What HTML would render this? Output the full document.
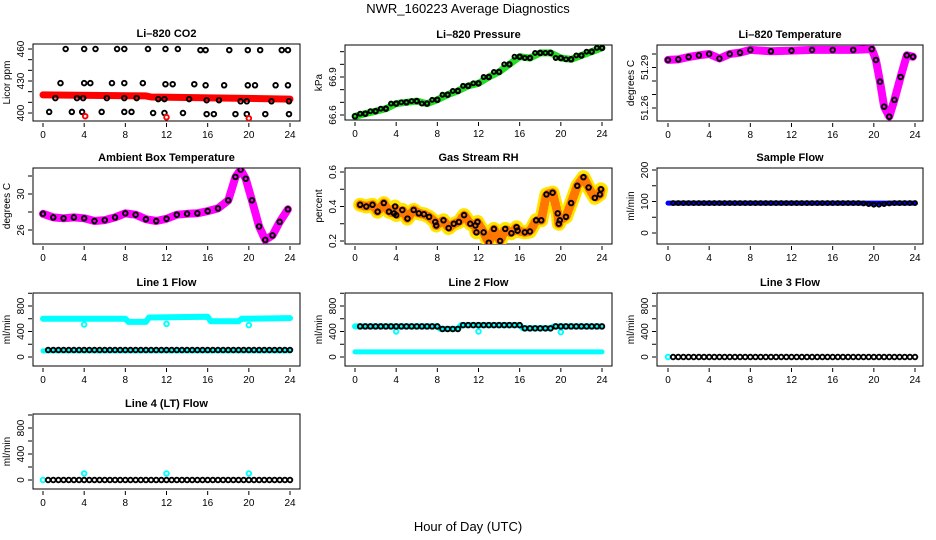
<!DOCTYPE html>
<html><head><meta charset="utf-8"><style>
html,body{margin:0;padding:0;background:#fff}
svg{display:block;font-family:"Liberation Sans",Arial,sans-serif}
</style></head><body>
<svg id="chart" width="936" height="540" viewBox="0 0 936 540">
<text x="468" y="13" text-anchor="middle" font-size="13">NWR_160223  Average Diagnostics</text>
<text x="468" y="531" text-anchor="middle" font-size="13">Hour of Day (UTC)</text>
</svg>
<script>
// ---- data ----
const xTicks = [0,4,8,12,16,20,24];
const halfHours = [0.5,1,1.5,2,2.5,3,3.5,4,4.5,5,5.5,6,6.5,7,7.5,8,8.5,9,9.5,10,10.5,11,11.5,12,12.5,13,13.5,14,14.5,15,15.5,16,16.5,17,17.5,18,18.5,19,19.5,20,20.5,21,21.5,22,22.5,23,23.5,24];

// CO2
const co2LineX = [0,10,10.5,18,24];
const co2LineY = [417,416,415,414,413];
const co2PtsX = [2.2,4.0,5.1,7.2,7.9,10.2,11.9,13.1,15.3,15.8,18.1,19.9,21.1,23.2,23.8,
 1.7,4.0,4.6,6.7,7.9,9.7,11.9,12.6,14.7,15.8,17.6,19.9,20.6,22.6,23.8,
 1.2,3.3,3.9,6.2,7.9,9.1,11.2,11.8,14.2,15.9,17.1,19.2,19.8,22.2,23.9,
 0.6,2.8,3.8,5.7,7.9,8.6,10.7,11.8,13.6,15.9,16.6,18.7,19.8,21.6,23.9];
const co2PtsY = [460,460,460,460,460,460,460,460,459,459,459,459,459,459,459,
 428,428,428,428,428,428,427,427,427,426,426,426,426,426,426,
 414,414,414,414,414,414,413,413,413,412,412,411,411,411,411,
 401,401,401,401,401,401,400,400,400,399,399,399,399,399,399];
const co2OutX = [4.1,12,20];
const co2OutY = [397,396,395];

// Pressure
const presX = [0,1,2,3,4,5,6,7,8,9,10,11,12,13,14,15,16,17,18,19,20,21,22,23,24];
const presY = [66.59,66.61,66.63,66.65,66.69,66.70,66.71,66.69,66.72,66.76,66.79,66.83,66.85,66.90,66.94,67.00,67.06,67.05,67.09,67.09,67.05,67.04,67.07,67.10,67.13];

// Li-820 temperature
const tempX = [0,1,2,3,4,5,6,7,8,10,12,14,16,18,19.8,20.2,20.6,21,21.5,22,22.6,23.2,23.8];
const tempY = [51.2956,51.296,51.2978,51.299,51.300,51.2967,51.300,51.301,51.303,51.302,51.3025,51.303,51.303,51.303,51.3036,51.2956,51.2795,51.261,51.2536,51.266,51.283,51.299,51.298];

// Ambient box temperature
const ambX = [0,1,2,3,4,5,6,7,8,9,10,11,12,13,14,15,16,17,18,18.7,19.2,19.7,20.3,21,21.6,22.3,23,23.8];
const ambY = [27.8,27.4,27.3,27.4,27.3,27.0,27.1,27.4,27.85,27.7,27.2,27.0,27.25,27.7,27.8,27.85,28.1,28.4,29.3,31.9,32.7,31.7,29.3,26.4,24.9,25.4,26.9,28.3];

// Gas stream RH
const rhX = [0.5,1.1,1.7,2.2,2.8,3.3,3.8,3.9,4.0,4.6,5.1,5.7,6.2,6.7,7.2,7.8,7.9,8.6,9.1,9.6,10.1,10.6,11.2,11.7,11.8,11.9,12.5,13.0,13.5,14.1,14.6,15.2,15.7,15.8,16.5,17.0,17.6,18.1,18.6,19.2,19.7,19.8,19.9,20.5,21.0,21.6,22.2,22.7,23.3,23.8,23.9];
const rhY = [0.41,0.40,0.41,0.37,0.42,0.37,0.36,0.40,0.35,0.38,0.33,0.38,0.36,0.355,0.34,0.31,0.29,0.32,0.275,0.30,0.31,0.35,0.30,0.29,0.25,0.31,0.25,0.19,0.27,0.20,0.27,0.245,0.28,0.26,0.25,0.255,0.32,0.32,0.47,0.48,0.36,0.30,0.32,0.34,0.42,0.52,0.57,0.51,0.45,0.47,0.50];

// Sample flow
const sampleY = [95,95,95,95,95,95,95,95,95,95,95,95,95,95,95,95,95,95,95,95,95,95,95,95,95,95,95,95,95,95,95,95,95,95,95,95,95,94,92,90,90,92,94,95,95,95,95,95];

// Line flows
const l1CyanX = [0,8,8.3,10,10.3,16,16.3,19,19.3,24];
const l1CyanY = [600,600,550,550,620,630,560,560,600,610];
const l1LowX = [0,24];
const l1LowY = [95,95];
const l1OutX = [4,12,20];
const l1OutY = [510,520,500];
const l1Black = [110,110,110,110,110,110,110,110,110,110,110,110,110,110,110,110,110,110,110,110,110,110,110,110,110,110,110,110,110,110,110,110,110,110,110,110,110,110,110,110,110,110,110,110,110,110,110,110];

const l2CyanX = [0,8,8.3,10,10.3,16,16.3,19,19.3,24];
const l2CyanY = [480,480,440,440,500,500,450,450,480,480];
const l2LowX = [0,24];
const l2LowY = [80,80];
const l2OutX = [4,12,20];
const l2OutY = [400,400,390];
const l2Black = [480,480,480,480,480,480,480,480,480,480,480,480,480,480,480,480,440,440,440,440,500,500,500,500,500,500,500,500,500,500,500,500,450,450,450,450,450,450,480,480,480,480,480,480,480,480,480,480];

const l3Black = [0,0,0,0,0,0,0,0,0,0,0,0,0,0,0,0,0,0,0,0,0,0,0,0,0,0,0,0,0,0,0,0,0,0,0,0,0,0,0,0,0,0,0,0,0,0,0,0];
const l3CyanX = [0];
const l3CyanY = [0];

const l4Black = [0,0,0,0,0,0,0,0,0,0,0,0,0,0,0,0,0,0,0,0,0,0,0,0,0,0,0,0,0,0,0,0,0,0,0,0,0,0,0,0,0,0,0,0,0,0,0,0];
const l4OutX = [0,4,12,20];
const l4OutY = [0,100,100,100];

// ---- drawing ----
const NS = "http://www.w3.org/2000/svg";
const svg = document.getElementById('chart');
function mk(tag, attrs, parent){
  const e = document.createElementNS(NS, tag);
  for (const k in attrs) e.setAttribute(k, attrs[k]);
  (parent||svg).appendChild(e);
  return e;
}
function makePanel(p){
  const g = mk('g', {});
  
  
  const x = v => p.x0 + (v/24)*(p.x24 - p.x0);
  const y = v => p.ya + (v - p.va)/(p.vb - p.va)*(p.yb - p.ya);
  const box = mk('rect', {x:p.L, y:p.T, width:p.R-p.L, height:p.B-p.T, fill:'none', stroke:'#000', 'stroke-width':1}, g);
  
  
  const t = mk('text', {x:(p.L+p.R)/2, y:p.T-7, 'text-anchor':'middle', 'font-size':11, 'font-weight':'bold'}, g);
  t.textContent = p.title;
  
  
  xTicks.forEach(v => {
    mk('line', {x1:x(v), x2:x(v), y1:p.B+2, y2:p.B+6, stroke:'#000'}, g);
    const tl = mk('text', {x:x(v), y:p.B+17, 'text-anchor':'middle', 'font-size':10}, g);
    tl.textContent = v;
    
    
  });
  p.yticks.forEach(v => {
    mk('line', {x1:p.L-5, x2:p.L-1, y1:y(v), y2:y(v), stroke:'#000'}, g);
  });
  p.ylabels.forEach(v => {
    const yl = mk('text', {x:0, y:0, 'text-anchor':'middle', 'font-size':10, transform:`translate(${p.L-9},${y(v)}) rotate(-90)`}, g);
    yl.textContent = v;
    
    
  });
  const yt = mk('text', {x:0, y:0, 'text-anchor':'middle', 'font-size':10, transform:`translate(${p.L-23},${(p.T+p.B)/2}) rotate(-90)`}, g);
  yt.textContent = p.ylab;
  
  
  const clip = 'clip-' + p.name;
  const cp = mk('clipPath', {id:clip}, g);
  mk('rect', {x:p.L, y:p.T, width:p.R-p.L, height:p.B-p.T}, cp);
  const dg = mk('g', {'clip-path':`url(#${clip})`}, g);
  return {x, y, g:dg};
}
function band(P, xs, ys, color, w, extra){
  const pts = xs.map((v,i) => P.x(v).toFixed(1)+','+P.y(ys[i]).toFixed(1)).join(' ');
  const pl = mk('polyline', Object.assign({points:pts, fill:'none', stroke:color, 'stroke-width':w, 'stroke-linejoin':'round', 'stroke-linecap':'round'}, extra||{}), P.g);
  
  
}
function pts(P, xs, ys, color, r){
  xs.forEach((v,i) => {
    const c = mk('circle', {cx:P.x(v), cy:P.y(ys[i]), r:r||2.3, fill:'none', stroke:color, 'stroke-width':1.9}, P.g);
    
    
  });
}
const C1 = {L:33, R:300, x0:43, x24:290};
const C2 = {L:345, R:612, x0:355, x24:602};
const C3 = {L:657, R:923, x0:668, x24:915};

// CO2
let P = makePanel(Object.assign({name:'panel-co2', title:'Li\u2013820 CO2', ylab:'Licor ppm', T:44, B:121, ya:113, va:400, yb:49, vb:460, yticks:[400,410,420,430,440,450,460], ylabels:[400,430,460]}, C1));
band(P, co2LineX, co2LineY, '#f00', 7);
pts(P, co2PtsX, co2PtsY, '#000');
pts(P, co2OutX, co2OutY, '#f00');

// Pressure
P = makePanel(Object.assign({name:'panel-pressure', title:'Li\u2013820 Pressure', ylab:'kPa', T:45, B:120, ya:115, va:66.6, yb:77, vb:66.9, yticks:[66.6,66.7,66.8,66.9,67.0,67.1], ylabels:['66.6','66.9']}, C2));
band(P, presX, presY, '#22dd22', 7);
pts(P, presX, presY, '#000');
pts(P, halfHours, halfHours.map((h,i)=>presY[Math.min(24,Math.round(h))]), '#000', 2);

// Temperature
P = makePanel(Object.assign({name:'panel-li820-temp', title:'Li\u2013820 Temperature', ylab:'degrees C', T:45, B:121, ya:108, va:51.26, yb:54, vb:51.30, yticks:[51.26,51.27,51.28,51.29,51.30], ylabels:['51.26','51.29']}, C3));
band(P, tempX, tempY, '#ff00ff', 8);
pts(P, tempX, tempY, '#000');

// Ambient
P = makePanel(Object.assign({name:'panel-ambient-temp', title:'Ambient Box Temperature', ylab:'degrees C', T:168, B:244, ya:230, va:26, yb:194, vb:30, yticks:[26,28,30,32], ylabels:[26,30]}, C1));
band(P, ambX, ambY, '#ff00ff', 8);
pts(P, ambX, ambY, '#000');

// RH
P = makePanel(Object.assign({name:'panel-gas-rh', title:'Gas Stream RH', ylab:'percent', T:168, B:244, ya:241, va:0.2, yb:172, vb:0.6, yticks:[0.2,0.3,0.4,0.5,0.6], ylabels:['0.2','0.4','0.6']}, C2));
band(P, rhX, rhY, '#ffe600', 14);
band(P, rhX, rhY, '#ff7700', 9, {'stroke-dasharray':'1 3'});
pts(P, rhX, rhY, '#000');

// Sample flow
P = makePanel(Object.assign({name:'panel-sample-flow', title:'Sample Flow', ylab:'ml/min', T:168, B:244, ya:233, va:0, yb:170, vb:200, yticks:[0,50,100,150,200], ylabels:[0,100,200]}, C3));
band(P, [0,24], [95,95], '#0000ff', 5);
pts(P, halfHours, sampleY, '#000', 2);

const flowTicks = [0,200,400,600,800,1000];
// Line 1
P = makePanel(Object.assign({name:'panel-line1-flow', title:'Line 1 Flow', ylab:'ml/min', T:293, B:366, ya:357, va:0, yb:306, vb:800, yticks:flowTicks, ylabels:[0,400,800]}, C1));
band(P, l1CyanX, l1CyanY, '#00ffff', 6);
band(P, l1LowX, l1LowY, '#00ffff', 5);
pts(P, l1OutX, l1OutY, '#00ffff');
pts(P, halfHours, l1Black, '#000');

// Line 2
P = makePanel(Object.assign({name:'panel-line2-flow', title:'Line 2 Flow', ylab:'ml/min', T:293, B:366, ya:357, va:0, yb:306, vb:800, yticks:flowTicks, ylabels:[0,400,800]}, C2));
band(P, l2CyanX, l2CyanY, '#00ffff', 6);
band(P, l2LowX, l2LowY, '#00ffff', 5);
pts(P, l2OutX, l2OutY, '#00ffff');
pts(P, halfHours, l2Black, '#000');

// Line 3
P = makePanel(Object.assign({name:'panel-line3-flow', title:'Line 3 Flow', ylab:'ml/min', T:293, B:366, ya:357, va:0, yb:306, vb:800, yticks:flowTicks, ylabels:[0,400,800]}, C3));
pts(P, l3CyanX, l3CyanY, '#00ffff');
pts(P, halfHours, l3Black, '#000');

// Line 4
P = makePanel(Object.assign({name:'panel-line4-flow', title:'Line 4 (LT) Flow', ylab:'ml/min', T:414, B:489, ya:480, va:0, yb:428, vb:800, yticks:flowTicks, ylabels:[0,400,800]}, C1));
pts(P, l4OutX, l4OutY, '#00ffff');
pts(P, halfHours, l4Black, '#000');
</script>
</body></html>
